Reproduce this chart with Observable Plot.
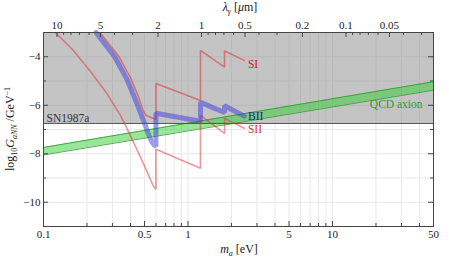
<!DOCTYPE html>
<html><head><meta charset="utf-8">
<script src="https://cdn.jsdelivr.net/npm/d3@7"></script>
<script src="https://cdn.jsdelivr.net/npm/@observablehq/plot@0.6"></script>
<style>body{margin:0;background:#fff} svg{display:block}</style>
</head><body><div id="chart"></div>
<script>
// ---- data ----
const xDomain = [0.1, 50];          // m_a [eV]
const yDomain = [-11, -3];          // log10 G_aNN / GeV^-1
const snLimit = -6.75;              // SN1987a bound

const qcdM  = [0.1, 50];
const qcdLo = [-8.05, -5.38];
const qcdHi = [-7.74, -5.03];

const siM = [0.246, 0.332, 0.402, 0.456, 0.478, 0.492, 0.514, 0.55, 0.6, 0.6, 1.22, 1.22, 1.79, 1.79, 2.45];
const siY = [-3.0, -3.99, -4.89, -5.67, -6.05, -6.25, -6.42, -6.5, -6.58, -5.1, -5.8, -3.74, -4.43, -3.76, -4.15];

const biiM = [0.231, 0.31, 0.375, 0.426, 0.462, 0.50, 0.533, 0.559, 0.586, 0.6, 0.6, 1.22, 1.22, 1.79, 1.79, 2.45];
const biiY = [-3.0, -3.99, -4.89, -5.67, -6.21, -6.74, -7.2, -7.49, -7.65, -7.69, -6.33, -6.66, -5.88, -6.3, -6.02, -6.45];

const siiM = [0.121, 0.161, 0.211, 0.277, 0.341, 0.375, 0.42, 0.469, 0.533, 0.577, 0.6, 0.6, 1.22, 1.22, 1.79, 1.79, 2.45];
const siiY = [-3.0, -3.74, -4.6, -5.55, -6.42, -6.91, -7.53, -8.14, -8.88, -9.34, -9.46, -7.81, -8.6, -6.42, -7.16, -6.54, -6.95];

const labelText  = ["SI", "BII", "SII", "QCD axion"];
const labelM     = [2.6, 2.6, 2.6, 42];
const labelY     = [-4.32, -6.46, -6.99, -5.96];
const labelColor = ["#cc2222", "#1c1ca0", "#d23a3a", "#2f9e2f"];

const xMajor = [0.1, 0.5, 1, 5, 10, 50];
const xMinor = [0.2, 0.3, 0.4, 0.6, 0.7, 0.8, 0.9, 2, 3, 4, 6, 7, 8, 9, 20, 30, 40];
const lamMajor = [10, 5, 2, 1, 0.5, 0.2, 0.1, 0.05];
const lamMinor = [9, 8, 7, 6, 4, 3, 0.9, 0.8, 0.7, 0.6, 0.4, 0.3, 0.09, 0.08, 0.07, 0.06, 0.04, 0.03];
const hc = 1.24; // eV·μm, λ = hc / m
const yMajor = [-10, -8, -6, -4];
const yMinor = [-11, -9, -7, -5, -3];

// ---- build ----
const W = 449, H = 258, mL = 43, mR = 16, mT = 32, mB = 32;
const fw = W - mL - mR, fh = H - mT - mB;
const font = '"Liberation Serif", "DejaVu Serif", serif';
const pts = (ms, ys) => ms.map((m, i) => ({m, y: ys[i]}));
const qcd = qcdM.map((m, i) => ({m, lo: qcdLo[i], hi: qcdHi[i]}));
const minus = d => d < 0 ? "\u2212" + (-d) : String(d);
const lamTicks = lamMajor.map(l => ({m: hc / l, label: String(l)}));

const labelMarks = labelText.map((t, i) => Plot.text([t], {
  x: () => labelM[i], y: () => labelY[i], text: d => d,
  textAnchor: i === 3 ? "end" : "start", fill: labelColor[i], fontSize: 11.5
}));

const plot = Plot.plot({
  width: W, height: H, marginLeft: mL, marginRight: mR, marginTop: mT, marginBottom: mB,
  style: {fontFamily: font, fontSize: "11px", background: "white", color: "#222"},
  x: {type: "log", domain: xDomain, label: null, axis: null},
  y: {domain: yDomain, label: null, axis: null},
  marks: [
    Plot.ruleX(xMajor.concat(xMinor), {stroke: "#e8e8e8", strokeWidth: 1}),
    Plot.ruleY(yMajor.concat(yMinor), {stroke: "#e8e8e8", strokeWidth: 1}),
    Plot.rect([snLimit], {x1: xDomain[0], x2: xDomain[1], y1: d => d, y2: yDomain[1], fill: "#8a8a8a", fillOpacity: 0.5}),
    Plot.areaY(qcd, {x: "m", y1: "lo", y2: "hi", fill: "#33cc33", fillOpacity: 0.5}),
    Plot.line(qcd, {x: "m", y: "lo", stroke: "#2a9a2a", strokeWidth: 0.8}),
    Plot.line(qcd, {x: "m", y: "hi", stroke: "#2a9a2a", strokeWidth: 0.8}),
    Plot.ruleY([snLimit], {stroke: "#505050", strokeWidth: 1}),
    Plot.text(["SN1987a"], {x: xDomain[0], y: snLimit, text: d => d, dx: 3, dy: -1, textAnchor: "start", lineAnchor: "bottom", fill: "#333", fontSize: 11.5}),
    Plot.line(pts(siiM, siiY), {x: "m", y: "y", stroke: "#dd3333", strokeOpacity: 0.5, strokeWidth: 1.6, strokeLinejoin: "miter"}),
    Plot.line(pts(siM, siY), {x: "m", y: "y", stroke: "#dd3333", strokeOpacity: 0.55, strokeWidth: 1.6, strokeLinejoin: "miter"}),
    Plot.line(pts(biiM, biiY), {x: "m", y: "y", stroke: "#3c3ce0", strokeOpacity: 0.5, strokeWidth: 5, strokeLinejoin: "miter"}),
    ...labelMarks,
    // ticks (inward)
    Plot.tickX(xMajor, {x: d => d, stroke: "#444", insetTop: fh - 5}),
    Plot.tickX(xMinor, {x: d => d, stroke: "#444", insetTop: fh - 3}),
    Plot.tickX(lamMajor.map(l => hc / l), {x: d => d, stroke: "#444", insetBottom: fh - 5}),
    Plot.tickX(lamMinor.map(l => hc / l), {x: d => d, stroke: "#444", insetBottom: fh - 3}),
    Plot.tickY(yMajor, {y: d => d, stroke: "#444", insetRight: fw - 5}),
    Plot.tickY(yMinor, {y: d => d, stroke: "#444", insetRight: fw - 3}),
    Plot.tickY(yMajor, {y: d => d, stroke: "#444", insetLeft: fw - 5}),
    Plot.tickY(yMinor, {y: d => d, stroke: "#444", insetLeft: fw - 3}),
    // tick labels
    Plot.text(xMajor, {x: d => d, text: d => String(d), frameAnchor: "bottom", dy: 4, lineAnchor: "top", fill: "#222"}),
    Plot.text(lamTicks, {x: "m", text: "label", frameAnchor: "top", dy: -4, lineAnchor: "bottom", fill: "#222"}),
    Plot.text(yMajor, {y: d => d, text: minus, frameAnchor: "left", dx: -3, textAnchor: "end", fill: "#222"}),
    Plot.frame({stroke: "#444", strokeWidth: 1})
  ]
});
document.getElementById("chart").appendChild(plot);

// ---- axis titles with italic / sub / superscripts ----
const svg = d3.select(plot);
const cx = mL + fw / 2, cy = mT + fh / 2;
function addTitle(x, y, parts, rotate) {
  const t = svg.append("text")
    .attr("text-anchor", "middle")
    .attr("transform", `translate(${x},${y})` + (rotate ? " rotate(-90)" : ""))
    .style("font-family", font).style("font-size", "12px").attr("fill", "#222");
  for (const p of parts) {
    const s = t.append("tspan").text(p.t);
    if (p.i) s.style("font-style", "italic");
    if (p.dy) s.attr("dy", p.dy);
    if (p.fs) s.style("font-size", p.fs);
  }
}
addTitle(cx + 1, H - 5, [
  {t: "m", i: 1}, {t: "a", i: 1, dy: 3, fs: "8px"}, {t: " [eV]", dy: -3}
]);
addTitle(cx + 2, 11, [
  {t: "\u03bb", i: 1}, {t: "\u03b3", i: 1, dy: 3, fs: "8px"}, {t: " [", dy: -3}, {t: "\u03bc", i: 1}, {t: "m]"}
]);
addTitle(14, cy, [
  {t: "log"}, {t: "10", dy: 3, fs: "8px"}, {t: "G", i: 1, dy: -3}, {t: "aNN", i: 1, dy: 3, fs: "8px"},
  {t: " /GeV", dy: -3}, {t: "\u22121", dy: -4, fs: "8px"}
], true);
</script>
</body></html>
